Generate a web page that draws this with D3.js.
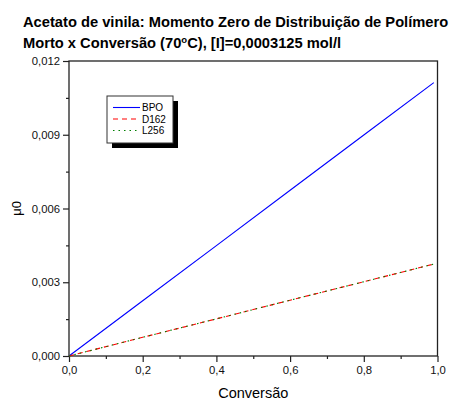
<!DOCTYPE html>
<html>
<head>
<meta charset="utf-8">
<script src="https://cdn.jsdelivr.net/npm/d3@7"></script>
<style>
  html, body { margin: 0; padding: 0; background: #fff; }
  svg { display: block; font-family: "Liberation Sans", Arial, sans-serif; }
</style>
</head>
<body>
<svg id="chart" width="461" height="400"></svg>
<script>
// Conversion values and zero-order moment of dead polymer for each initiator
const conversion = [0, 0.2, 0.4, 0.6, 0.8, 0.99];
const bpo  = [0, 0.00225, 0.00449, 0.00674, 0.00899, 0.01112];
const d162 = [0, 0.00076, 0.00151, 0.00227, 0.00302, 0.00374];
const l256 = [0, 0.00076, 0.00151, 0.00227, 0.00302, 0.00374];
const seriesNames = ["BPO", "D162", "L256"];
const xTicks = [0, 0.2, 0.4, 0.6, 0.8, 1.0];
const yTicks = [0, 0.003, 0.006, 0.009, 0.012];
const titleLines = [
  "Acetato de vinila: Momento Zero de Distribuição de Polímero",
  "Morto x Conversão (70°C), [I]=0,0003125 mol/l"
];

const svg = d3.select("#chart");
const m = { left: 69, right: 437.5, top: 61, bottom: 356 };

const x = d3.scaleLinear().domain([0, 1]).range([m.left, m.right]);
const y = d3.scaleLinear().domain([0, 0.012]).range([m.bottom, m.top]);

const fmtX = v => d3.format(".1f")(v).replace(".", ",");
const fmtY = v => d3.format(".3f")(v).replace(".", ",");

// Title (two lines, bold); superscript ° drawn as raised "o"
const title = svg.append("g").attr("font-weight", "bold").attr("font-size", 14.7);
title.append("text").attr("x", 23).attr("y", 27).text(titleLines[0]);
const t2 = title.append("text").attr("x", 23).attr("y", 48);
t2.append("tspan").text("Morto x Conversão (70");
t2.append("tspan").attr("dy", -5).attr("font-size", 9.5).text("o");
t2.append("tspan").attr("dy", 5).text("C), [I]=0,0003125 mol/l");

// Frame
svg.append("rect")
  .attr("x", m.left).attr("y", m.top)
  .attr("width", m.right - m.left).attr("height", m.bottom - m.top)
  .attr("fill", "none").attr("stroke", "#222").attr("stroke-width", 1.3);

// Axes: major ticks with labels, minor ticks without
svg.append("g").attr("transform", `translate(0,${m.bottom})`)
  .call(d3.axisBottom(x).tickValues(xTicks).tickFormat(fmtX).tickSizeInner(6).tickSizeOuter(0).tickPadding(4));
svg.append("g").attr("transform", `translate(0,${m.bottom})`)
  .call(d3.axisBottom(x).tickValues(d3.range(0.1, 1, 0.2)).tickFormat("").tickSizeInner(3).tickSizeOuter(0));
svg.append("g").attr("transform", `translate(${m.left},0)`)
  .call(d3.axisLeft(y).tickValues(yTicks).tickFormat(fmtY).tickSizeInner(6).tickSizeOuter(0).tickPadding(3));
svg.append("g").attr("transform", `translate(${m.left},0)`)
  .call(d3.axisLeft(y).tickValues(d3.range(0.0015, 0.012, 0.003)).tickFormat("").tickSizeInner(3).tickSizeOuter(0));

svg.selectAll(".domain").remove();
svg.selectAll(".tick line").attr("stroke", "#222").attr("stroke-width", 1.2);
svg.selectAll(".tick text").attr("font-size", 11.3).attr("fill", "#111")
  .attr("font-family", "Liberation Sans, Arial, sans-serif");

// Axis titles
svg.append("text").attr("x", (m.left + m.right) / 2).attr("y", 398)
  .attr("text-anchor", "middle").attr("font-size", 14.5).text("Conversão");
svg.append("text").attr("transform", `translate(21,${(m.top + m.bottom) / 2}) rotate(-90)`)
  .attr("text-anchor", "middle").attr("font-size", 13).text("μ0");

// Series lines
const styles = [
  { color: "#0000ff", dash: null },
  { color: "#ff0000", dash: "5,4" },
  { color: "#008000", dash: "1.5,4" }
];
const values = [bpo, d162, l256];
const line = d3.line().x(d => x(d[0])).y(d => y(d[1]));
const plot = svg.append("g");
values.forEach((vals, i) => {
  plot.append("path")
    .datum(conversion.map((c, j) => [c, vals[j]]))
    .attr("fill", "none")
    .attr("stroke", styles[i].color)
    .attr("stroke-width", 1.1)
    .attr("stroke-dasharray", styles[i].dash)
    .attr("d", line);
});

// Legend with drop shadow
const lg = svg.append("g").attr("transform", "translate(107,96)");
lg.append("rect").attr("x", 5).attr("y", 5).attr("width", 66).attr("height", 47).attr("fill", "#000");
lg.append("rect").attr("x", 0).attr("y", 0).attr("width", 66).attr("height", 47)
  .attr("fill", "#fff").attr("stroke", "#333").attr("stroke-width", 1);
seriesNames.forEach((name, i) => {
  const yy = 11.5 + i * 11.5;
  lg.append("line").attr("x1", 6).attr("x2", 33).attr("y1", yy).attr("y2", yy)
    .attr("stroke", styles[i].color).attr("stroke-width", 1.1)
    .attr("stroke-dasharray", styles[i].dash);
  lg.append("text").attr("x", 35).attr("y", yy + 3.5).attr("font-size", 10).text(name);
});
</script>
</body>
</html>
